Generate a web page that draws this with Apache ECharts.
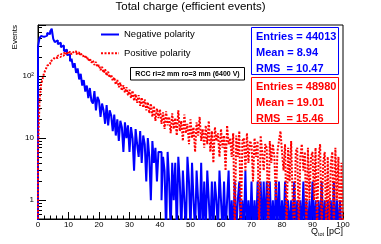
<!DOCTYPE html>
<html>
<head>
<meta charset="utf-8">
<script src="https://cdn.jsdelivr.net/npm/echarts@6/dist/echarts.min.js"></script>
<style>html,body{margin:0;padding:0;background:#fff}#c{width:381px;height:244px}</style>
</head>
<body>
<div id="c"></div>
<script>
// Histogram binning (pC)
const xMin = 0;
const xMax = 100;
const binWidth = 0.5;

// Bin contents, Negative polarity (blue)
const negCounts = [
  300, 405, 440, 425, 455, 445, 490, 470, 525, 575,
  395, 350, 375, 325, 342, 290, 310, 252, 266, 218,
  222, 172, 190, 136, 160, 112, 132, 88, 108, 70,
  86, 56, 70, 44, 64, 40, 36, 57, 28, 46,
  40, 22, 36, 28, 17, 34, 16, 28, 23, 13,
  24, 11, 20, 9, 19, 15, 6, 18, 10, 16,
  6, 15, 10, 3, 14, 8, 5, 13, 4, 11,
  8, 2, 10, 5, 1, 9, 4, 7, 2, 6,
  6, 1, 5, 3, 0, 6, 2, 0, 4, 1,
  4, 0, 5, 2, 0, 3, 1, 0, 5, 2,
  0, 4, 1, 0, 3, 1, 0, 4, 0, 2,
  0, 3, 1, 0, 2, 0, 2, 1, 0, 3,
  1, 0, 2, 0, 1, 3, 0, 1, 0, 2,
  0, 1, 2, 0, 1, 0, 3, 0, 1, 0,
  2, 0, 1, 0, 2, 0, 2, 0, 2, 0,
  2, 0, 2, 0, 1, 0, 2, 0, 2, 0,
  1, 0, 2, 0, 1, 0, 1, 0, 2, 0,
  1, 0, 1, 0, 2, 0, 1, 0, 1, 0,
  2, 0, 1, 0, 1, 0, 2, 0, 1, 0,
  1, 0, 1, 0, 2, 0, 1, 0, 1, 0
];

// Bin contents, Positive polarity (red)
const posCounts = [
  6, 40, 72, 90, 112, 126, 146, 155, 172, 183,
  176, 200, 194, 214, 201, 226, 211, 238, 219, 245,
  226, 248, 222, 240, 251, 224, 241, 215, 237, 206,
  214, 190, 207, 175, 192, 163, 178, 150, 168, 139,
  150, 124, 140, 112, 128, 101, 117, 94, 105, 84,
  95, 73, 86, 66, 78, 58, 71, 54, 66, 49,
  60, 44, 58, 40, 51, 37, 49, 33, 45, 31,
  42, 28, 38, 25, 36, 22, 33, 19, 30, 21,
  29, 17, 26, 14, 27, 16, 22, 12, 25, 14,
  21, 11, 28, 13, 19, 9, 24, 12, 17, 8,
  20, 10, 15, 6, 18, 11, 22, 9, 14, 7,
  16, 8, 19, 6, 13, 4, 15, 9, 12, 5,
  14, 7, 11, 3, 16, 8, 10, 5, 12, 0,
  11, 5, 13, 0, 9, 10, 3, 12, 4, 9,
  8, 2, 10, 5, 9, 0, 11, 6, 3, 8,
  7, 0, 9, 4, 8, 5, 1, 6, 9, 13,
  6, 3, 8, 0, 7, 2, 9, 1, 0, 6,
  7, 0, 5, 8, 3, 6, 0, 7, 1, 5,
  6, 1, 7, 0, 5, 8, 0, 4, 6, 0,
  5, 0, 4, 6, 0, 7, 1, 5, 0, 4
];

const seriesNames = ['Negative polarity', 'Positive polarity'];
const xTicks = [0, 10, 20, 30, 40, 50, 60, 70, 80, 90, 100];
const yTickLabels = { 1: '1', 10: '10', 100: '10\u00B2' };
const yRange = [0.5, 660];
const statsNeg = ['Entries = 44013', 'Mean = 8.94', 'RMS  = 10.47'];
const statsPos = ['Entries = 48980', 'Mean = 19.01', 'RMS  = 15.46'];
const titleText = 'Total charge (efficient events)';
const noteText = 'RCC ri=2 mm ro=3 mm (6400 V)';

// empty bins are drawn down to the bottom of the (log) frame
const FLOOR = 0.3;
function histPoints(counts) {
  const pts = [[xMin, FLOOR]];
  for (let i = 0; i < counts.length; i++) {
    const v = counts[i] > 0 ? counts[i] : FLOOR;
    pts.push([xMin + i * binWidth, v]);
  }
  const last = counts[counts.length - 1] > 0 ? counts[counts.length - 1] : FLOOR;
  pts.push([xMax, last]);
  pts.push([xMax, FLOOR]);
  return pts;
}

const FONT = '"Liberation Sans", Arial, Helvetica, sans-serif';
const chart = echarts.init(document.getElementById('c'), null, { renderer: 'canvas' });

function statBox(x, y, w, h, color, lines) {
  const els = [{
    type: 'rect', z: 100,
    shape: { x: x, y: y, width: w, height: h },
    style: { fill: '#fff', stroke: color, lineWidth: 1 }
  }];
  lines.forEach(function (t, k) {
    els.push({
      type: 'text', z: 101, x: x + 4.5, y: y + 9 + k * 16,
      style: { text: t, fill: color, font: 'bold 11px ' + FONT, verticalAlign: 'middle', align: 'left' }
    });
  });
  return els;
}

const option = {
  animation: false,
  backgroundColor: '#fff',
  title: {
    text: titleText, left: 'center', top: 1, padding: 0,
    textStyle: { fontSize: 11.5, fontWeight: 'normal', color: '#000', fontFamily: FONT }
  },
  legend: {
    orient: 'vertical', left: 100, top: 28.5, padding: 0,
    itemWidth: 18, itemHeight: 12, itemGap: 6.8,
    data: seriesNames,
    itemStyle: { color: 'transparent', borderColor: 'transparent', borderWidth: 0, opacity: 0 },
    textStyle: { fontSize: 9.5, color: '#000', fontFamily: FONT, lineHeight: 12 }
  },
  grid: {
    left: 38, right: 38, top: 25, bottom: 25,
    show: true, borderColor: '#000', borderWidth: 1, backgroundColor: 'transparent'
  },
  xAxis: {
    type: 'value', min: xMin, max: xMax, interval: 10,
    axisLine: { show: true, lineStyle: { color: '#000', width: 1 } },
    axisTick: { show: true, inside: true, length: 7, lineStyle: { color: '#000' } },
    minorTick: { show: true, splitNumber: 5, length: 3.5, lineStyle: { color: '#000' } },
    axisLabel: {
      fontSize: 8, color: '#000', fontFamily: FONT, margin: 2,
      formatter: function (v) { return xTicks.indexOf(v) >= 0 ? String(v) : ''; }
    },
    splitLine: { show: false }
  },
  yAxis: {
    type: 'log', logBase: 10, min: yRange[0], max: yRange[1],
    axisLine: { show: true, lineStyle: { color: '#000', width: 1 } },
    axisTick: { show: true, inside: true, length: 8, lineStyle: { color: '#000' } },
    minorTick: { show: true, splitNumber: 9, length: 4, lineStyle: { color: '#000', width: 1 } },
    axisLabel: {
      fontSize: 8, color: '#000', fontFamily: FONT, margin: 4,
      showMinLabel: false, showMaxLabel: false,
      formatter: function (v) {
        const k = Math.round(v);
        return (Math.abs(v - k) < 1e-6 && yTickLabels[k]) ? yTickLabels[k] : '';
      }
    },
    splitLine: { show: false }
  },
  series: [
    {
      name: seriesNames[0], type: 'line', step: 'end', symbol: 'none', clip: true,
      data: histPoints(negCounts), color: '#0000ff',
      lineStyle: { color: '#0000ff', width: 2 }, z: 2
    },
    {
      name: seriesNames[1], type: 'line', step: 'end', symbol: 'none', clip: true,
      data: histPoints(posCounts), color: '#ff0000',
      lineStyle: { color: '#ff0000', width: 2, type: [2, 1.5] }, z: 3
    }
  ],
  graphic: [].concat(
    statBox(251.5, 27.5, 87, 47, '#0000ff', statsNeg),
    statBox(251.5, 77.5, 87, 46, '#ff0000', statsPos),
    [
      {
        type: 'rect', z: 100,
        shape: { x: 130.5, y: 67.5, width: 114, height: 12.5 },
        style: { fill: '#fff', stroke: '#000', lineWidth: 1 }
      },
      {
        type: 'text', z: 101, x: 187.5, y: 74,
        style: { text: noteText, fill: '#000', font: 'bold 7px ' + FONT, align: 'center', verticalAlign: 'middle' }
      },
      {
        type: 'text', z: 101, x: 15, y: 25, rotation: Math.PI / 2,
        style: { text: 'Events', fill: '#000', font: '8px ' + FONT, align: 'right', verticalAlign: 'middle' }
      },
      {
        type: 'text', z: 101, x: 343, y: 232,
        style: {
          text: '{q|Q}{s|tot}{q| [pC]}', align: 'right', verticalAlign: 'middle', fill: '#000',
          rich: {
            q: { fontSize: 9, fontFamily: FONT, fill: '#000' },
            s: { fontSize: 5.5, fontFamily: FONT, fill: '#000', padding: [4, 0, 0, 0] }
          }
        }
      }
    ]
  )
};
chart.setOption(option);
</script>
</body>
</html>
